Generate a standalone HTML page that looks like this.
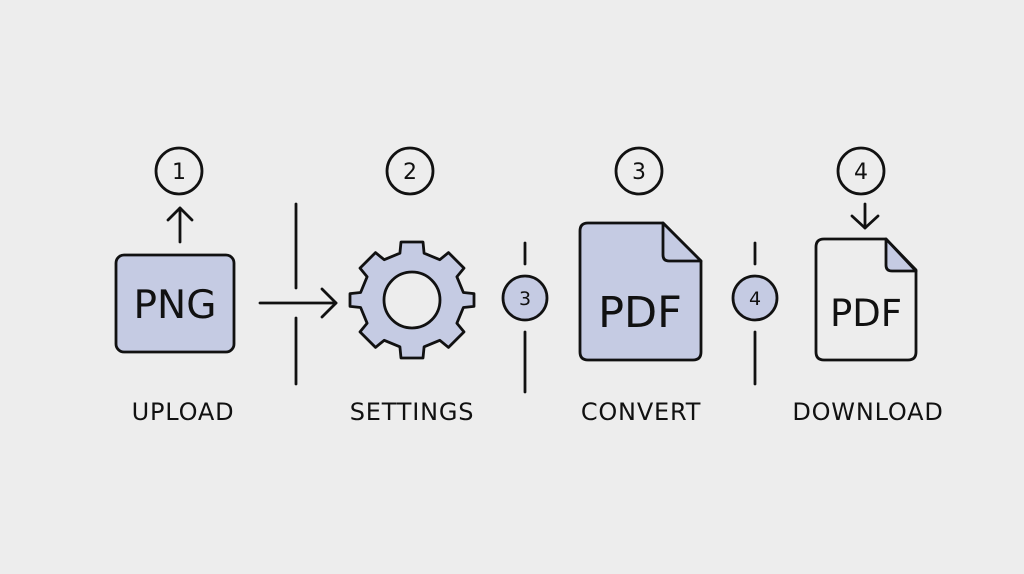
<!DOCTYPE html>
<html><head><meta charset="utf-8"><style>
html,body{margin:0;padding:0;background:#ededed;}
svg{display:block}
text{font-family:"DejaVu Sans","Liberation Sans",sans-serif;fill:#111;}
</style></head><body>
<svg width="1024" height="574" viewBox="0 0 1024 574" xmlns="http://www.w3.org/2000/svg">
<rect width="1024" height="574" fill="#ededed"/>
<g stroke="#111" stroke-width="2.8" fill="none" stroke-linecap="round" stroke-linejoin="round">
  <circle cx="179" cy="171" r="23"/>
  <circle cx="410" cy="171" r="23"/>
  <circle cx="639" cy="171" r="23"/>
  <circle cx="861" cy="171" r="23"/>
  <line x1="180" y1="242" x2="180" y2="208"/>
  <polyline points="168,220 180,208 192,220"/>
  <line x1="865" y1="204" x2="865" y2="228"/>
  <polyline points="852,216 865,228 878,216"/>
  <rect x="116" y="255" width="118" height="97" rx="8" fill="#c5cbe3"/>
  <line x1="296" y1="204" x2="296" y2="288"/>
  <line x1="296" y1="318" x2="296" y2="384"/>
  <line x1="260" y1="303" x2="336" y2="303"/>
  <polyline points="322,289 336,303 322,317"/>
  <polygon fill="#c5cbe3" points="399.9,253.2 401.0,242.0 423.0,242.0 424.1,253.2 439.8,259.7 448.5,252.6 464.0,268.1 456.9,276.8 463.4,292.5 474.0,293.6 474.0,306.4 463.4,307.5 456.9,323.2 464.0,331.9 448.5,347.4 439.8,340.3 424.1,346.8 423.0,358.0 401.0,358.0 399.9,346.8 384.2,340.3 375.5,347.4 360.0,331.9 367.1,323.2 360.6,307.5 350.0,306.4 350.0,293.6 360.6,292.5 367.1,276.8 360.0,268.1 375.5,252.6 384.2,259.7"/>
  <circle cx="412" cy="300" r="28" fill="#ededed"/>
  <line x1="525" y1="243" x2="525" y2="264"/>
  <line x1="525" y1="332" x2="525" y2="392"/>
  <circle cx="525" cy="298" r="22" fill="#c5cbe3"/>
  <path d="M588,223 H663 L701,261 V352 Q701,360 693,360 H588 Q580,360 580,352 V231 Q580,223 588,223 Z" fill="#c5cbe3"/>
  <path d="M663,223 V255 Q663,261 669,261 H701 Z" fill="#c5cbe3"/>
  <line x1="755" y1="243" x2="755" y2="264"/>
  <line x1="755" y1="332" x2="755" y2="384"/>
  <circle cx="755" cy="298" r="22" fill="#c5cbe3"/>
  <path d="M824,239 H886 L916,270 V352 Q916,360 908,360 H824 Q816,360 816,352 V247 Q816,239 824,239 Z" fill="#ededed"/>
  <path d="M886,239 V265 Q886,271 892,271 H916 Z" fill="#c5cbe3"/>
</g>
<g font-size="22" text-anchor="middle">
  <text x="179" y="179">1</text>
  <text x="410" y="179">2</text>
  <text x="639" y="179">3</text>
  <text x="861" y="179">4</text>
  <text x="525" y="305" font-size="19">3</text>
  <text x="755" y="305" font-size="19">4</text>
</g>
<text x="175" y="318" font-size="39" text-anchor="middle">PNG</text>
<text x="640" y="327" font-size="43" text-anchor="middle">PDF</text>
<text x="866" y="326" font-size="37" text-anchor="middle">PDF</text>
<g font-size="24" text-anchor="middle" letter-spacing="0.8">
  <text x="183" y="420">UPLOAD</text>
  <text x="412" y="420">SETTINGS</text>
  <text x="641" y="420">CONVERT</text>
  <text x="868" y="420">DOWNLOAD</text>
</g>
</svg>
</body></html>
